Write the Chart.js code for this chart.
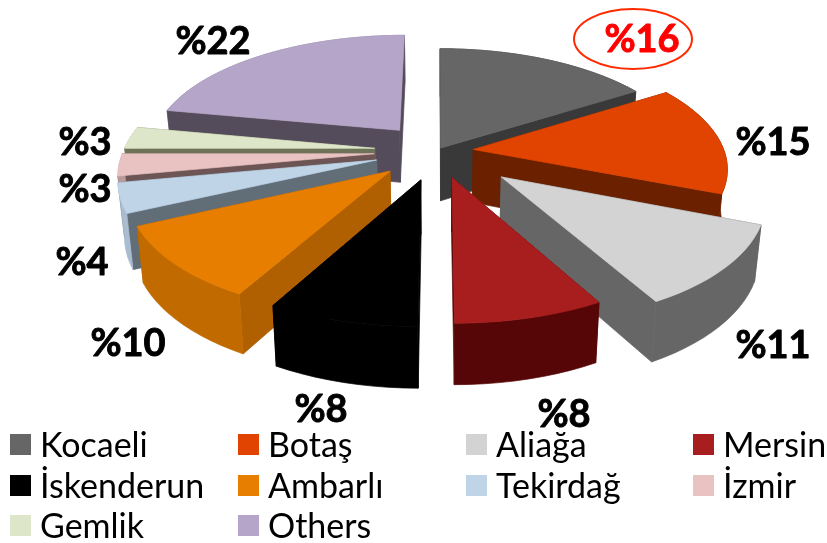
<!DOCTYPE html>
<html>
<head>
<meta charset="utf-8">
<title>Market share pie</title>
<style>
  html, body { margin: 0; padding: 0; background: #fff; }
  canvas { display: block; }
</style>
<script src="https://cdn.jsdelivr.net/npm/chart.js@4"></script>
</head>
<body>
<canvas id="myChart" width="827" height="543"></canvas>
<script>
"use strict";

let categories = ["Kocaeli", "Botaş", "Aliağa", "Mersin", "İskenderun", "Ambarlı", "Tekirdağ", "İzmir", "Gemlik", "Others"];
let shares = [16, 15, 11, 8, 8, 10, 4, 3, 3, 22];

// top face, cut faces and outer rim of each slice
let topColors = ["#666666", "#e04400", "#d3d3d3", "#a81e1e", "#000000", "#e87e00", "#c0d4e8", "#e9c2c2", "#dde6c8", "#b5a5c8"];
let cutColors = ["#393939", "#6b2000", "#666666", "#560606", "#000000", "#b06000", "#616e78", "#6e5555", "#6e7358", "#544c5a"];
let rimColors = ["#393939", "#6b2000", "#666666", "#560606", "#000000", "#c06a00", "#a9bcd0", "#b89a9a", "#b0b89c", "#8f83a0"];
let explode = [0.03, 0.145, 0.33, 0.23, 0.25, 0.25, 0.25, 0.25, 0.25, 0.24];

// label centres, same order as the categories
let labelX = [642, 773, 773, 564, 321, 128, 82, 85, 85, 213];
let labelY = [40, 143, 346, 415, 410, 344, 263, 190, 143, 42];

let legendX = [10, 238, 466, 693];
let legendY = [434, 475, 515];

// fake camera for the tilted pie
const view = { cx: 437, cy: 151, a: 251, b: 115, tilt: 0.15, depth: 53, shrink: 0.02 };

function project(u, v, z) {
  let s = 1 / (1 - view.tilt * v);
  let zs = 1 - view.shrink * z;
  return {
    x: view.cx + view.a * u * s * zs,
    y: view.cy + view.b * v * s * zs + view.depth * z * s,
  };
}

function fillPoly(ctx, points, color) {
  ctx.beginPath();
  points.forEach(function (p, i) {
    if (i === 0) ctx.moveTo(p.x, p.y);
    else ctx.lineTo(p.x, p.y);
  });
  ctx.closePath();
  ctx.fillStyle = color;
  ctx.strokeStyle = color;
  ctx.lineWidth = 0.7; // hides the light seams between faces
  ctx.fill();
  ctx.stroke();
}

function wallPoints(edge) {
  let upper = edge.map(function (p) {
    return project(p.u, p.v, 0);
  });
  let lower = edge.map(function (p) {
    return project(p.u, p.v, 1);
  });
  return upper.concat(lower.reverse());
}

function drawSlice(ctx, arc, i) {
  let mid = (arc.startAngle + arc.endAngle) / 2;
  let tip = { u: Math.cos(mid) * explode[i], v: Math.sin(mid) * explode[i] };
  let rim = [];
  let steps = Math.max(4, Math.round((arc.endAngle - arc.startAngle) * 20));
  for (let n = 0; n <= steps; n++) {
    let t = arc.startAngle + ((arc.endAngle - arc.startAngle) * n) / steps;
    rim.push({ u: tip.u + Math.cos(t), v: tip.v + Math.sin(t) });
  }

  // side faces, painted from the back to the front
  let rimOrder = rim.reduce(function (sum, p) {
    return sum + p.v;
  }, 0) / rim.length;
  let faces = [
    { order: (tip.v + rim[0].v) / 2, edge: [tip, rim[0]], color: cutColors[i] },
    { order: (tip.v + rim[steps].v) / 2, edge: [tip, rim[steps]], color: cutColors[i] },
    { order: rimOrder, edge: rim, color: rimColors[i] },
  ];
  faces.sort(function (f, g) {
    return f.order - g.order;
  });
  faces.forEach(function (f) {
    fillPoly(ctx, wallPoints(f.edge), f.color);
  });

  let top = [project(tip.u, tip.v, 0)];
  rim.forEach(function (p) {
    top.push(project(p.u, p.v, 0));
  });
  fillPoly(ctx, top, topColors[i]);
}

const tiltedPie = {
  id: "tiltedPie",
  beforeDatasetDraw: function () {
    return false; // the flat arcs are replaced by the tilted ones below
  },
  afterDatasetsDraw: function (chart) {
    let ctx = chart.ctx;
    let arcs = chart.getDatasetMeta(0).data.map(function (arc, i) {
      return { arc: arc, i: i, depth: Math.sin((arc.startAngle + arc.endAngle) / 2) };
    });
    arcs.sort(function (p, q) {
      return p.depth - q.depth;
    });
    ctx.save();
    arcs.forEach(function (item) {
      drawSlice(ctx, item.arc, item.i);
    });
    ctx.restore();
  },
};

const pieLabels = {
  id: "pieLabels",
  afterDraw: function (chart) {
    let ctx = chart.ctx;
    ctx.save();
    ctx.textAlign = "center";
    ctx.textBaseline = "middle";
    ctx.font = "bold 38px Lato";
    ctx.lineWidth = 0.9;
    ctx.lineJoin = "round";
    shares.forEach(function (share, i) {
      let color = i === 0 ? "#ff0000" : "#000000";
      ctx.fillStyle = color;
      ctx.strokeStyle = color;
      ctx.fillText("%" + share, labelX[i], labelY[i]);
      ctx.strokeText("%" + share, labelX[i], labelY[i]);
    });
    // red ring around the first label
    ctx.beginPath();
    ctx.ellipse(633, 39, 59, 30, 0, 0, Math.PI * 2);
    ctx.strokeStyle = "#ff2a00";
    ctx.lineWidth = 2;
    ctx.stroke();

    // legend, four columns
    ctx.textAlign = "left";
    ctx.textBaseline = "alphabetic";
    ctx.font = "34px Lato";
    categories.forEach(function (name, i) {
      let x = legendX[i % 4];
      let y = legendY[Math.floor(i / 4)];
      ctx.fillStyle = topColors[i];
      ctx.fillRect(x, y, 21, 21);
      ctx.fillStyle = "#000000";
      ctx.fillText(name, x + 30, y + 23);
    });
    ctx.restore();
  },
};

new Chart(document.getElementById("myChart"), {
  type: "pie",
  data: {
    labels: categories,
    datasets: [{ data: shares, backgroundColor: topColors, borderWidth: 0 }],
  },
  options: {
    responsive: false,
    animation: false,
    plugins: {
      legend: { display: false },
      tooltip: { enabled: false },
    },
  },
  plugins: [tiltedPie, pieLabels],
});
</script>
</body>
</html>
